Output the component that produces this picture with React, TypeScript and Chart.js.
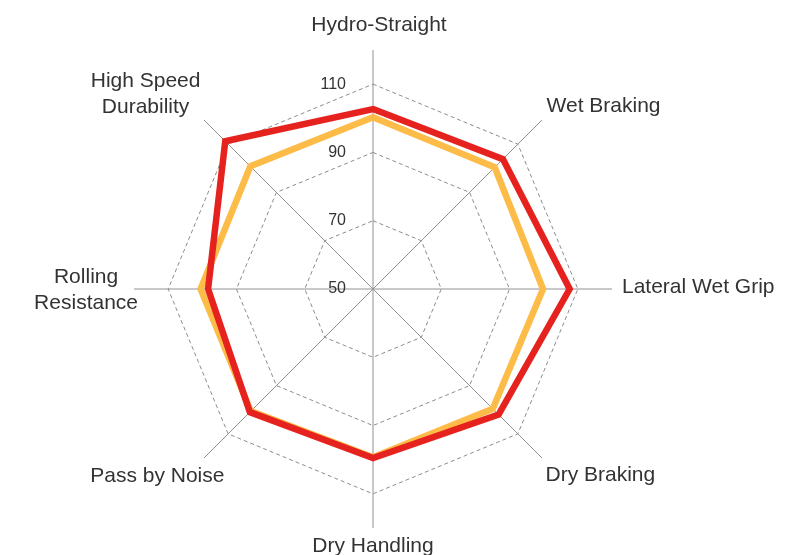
import React, { useEffect, useRef } from 'react';
import { Chart, registerables } from 'chart.js';

Chart.register(...registerables);

const categories: string[][] = [
  ['Hydro-Straight'],
  ['Wet Braking'],
  ['Lateral Wet Grip'],
  ['Dry Braking'],
  ['Dry Handling'],
  ['Pass by Noise'],
  ['Rolling', 'Resistance'],
  ['High Speed', 'Durability'],
];
const redSeries = [102.7, 103.8, 107.6, 102.0, 99.5, 101.0, 98.3, 111.2];
const orangeSeries = [100.3, 100.4, 99.8, 99.6, 99.3, 100.6, 100.5, 100.8];
const tickValues = [50, 70, 90, 110];
const scaleMin = 50;
const scaleMax = 120;
const scaleStep = 10;

const FONT_FAMILY = '"Liberation Sans", Arial, Helvetica, sans-serif';

// small layout nudges for the category labels (pixels), keyed by first line
const labelNudges: Record<string, [number, number]> = {
  'Hydro-Straight': [6, -7],
  'Wet Braking': [1, 3],
  'Lateral Wet Grip': [5, -2],
  'Dry Braking': [0, 1],
  'Dry Handling': [0, 0],
  'Pass by Noise': [24, 2],
  'Rolling': [9, 1],
  'High Speed': [0, 4],
};

const labelPlugin = {
  id: 'customRadarLabels',
  afterDraw(chart: any) {
    const scale = chart.scales.r;
    const ctx = chart.ctx as CanvasRenderingContext2D;
    ctx.save();
    // tick labels, left of the vertical axis
    ctx.font = `16px ${FONT_FAMILY}`;
    ctx.fillStyle = '#333333';
    ctx.textAlign = 'right';
    ctx.textBaseline = 'middle';
    tickValues.forEach((v) => {
      const d = scale.getDistanceFromCenterForValue(v);
      ctx.fillText(String(v), scale.xCenter - 27, scale.yCenter - d);
    });

    // category labels
    const lh = 26;
    ctx.font = `21px ${FONT_FAMILY}`;
    ctx.fillStyle = '#333333';
    ctx.textAlign = 'center';
    ctx.textBaseline = 'middle';
    const labels = chart.data.labels as string[][];
    labels.forEach((lines, i) => {
      const p = scale.getPointPosition(i, scale.drawingArea + 5);
      const deg = Math.round(((scale.getIndexAngle(i) * 180) / Math.PI) % 360);
      const w = Math.max(...lines.map((l) => ctx.measureText(l).width));
      const h = lines.length * lh;
      let left: number;
      if (deg === 0 || deg === 180) left = p.x - w / 2;
      else if (deg < 180) left = p.x;
      else left = p.x - w;
      let top: number;
      if (deg === 90 || deg === 270) top = p.y - h / 2;
      else if (deg > 270 || deg < 90) top = p.y - h;
      else top = p.y;
      const nudge = labelNudges[lines[0]] || [0, 0];
      lines.forEach((line, j) => {
        ctx.fillText(line, left + w / 2 + nudge[0], top + lh * (j + 0.5) + nudge[1]);
      });
    });
    ctx.restore();
  },
};

export default function App() {
  const canvasRef = useRef<HTMLCanvasElement | null>(null);

  useEffect(() => {
    if (!canvasRef.current) return;
    const chart = new Chart(canvasRef.current, {
      type: 'radar',
      data: {
        labels: categories as any,
        datasets: [
          {
            label: 'Red',
            data: redSeries,
            borderColor: '#e6221e',
            backgroundColor: 'transparent',
            borderWidth: 6.5,
            pointRadius: 0,
            fill: false,
            borderJoinStyle: 'miter',
          },
          {
            label: 'Orange',
            data: orangeSeries,
            borderColor: '#fdbb47',
            backgroundColor: 'transparent',
            borderWidth: 6.5,
            pointRadius: 0,
            fill: false,
            borderJoinStyle: 'miter',
          },
        ],
      },
      options: {
        animation: false,
        responsive: true,
        maintainAspectRatio: false,
        layout: { padding: { left: 134, right: 179, top: 50, bottom: 27 } },
        plugins: {
          legend: { display: false },
          tooltip: { enabled: false },
        },
        scales: {
          r: {
            min: scaleMin,
            max: scaleMax,
            ticks: { display: false, stepSize: scaleStep },
            pointLabels: { display: false },
            angleLines: { display: true, color: '#929292', lineWidth: 1 },
            grid: {
              circular: false,
              lineWidth: 1,
              color: (c: any) =>
                c.tick && tickValues.includes(Math.round(c.tick.value)) ? '#8c8c8c' : 'rgba(0,0,0,0)',
            },
            border: { dash: [4, 3] },
          },
        },
      } as any,
      plugins: [labelPlugin],
    });
    return () => chart.destroy();
  }, []);

  return (
    <div style={{ position: 'fixed', left: 0, top: 0, width: 791, height: 555, background: '#ffffff' }}>
      <canvas ref={canvasRef} />
    </div>
  );
}
